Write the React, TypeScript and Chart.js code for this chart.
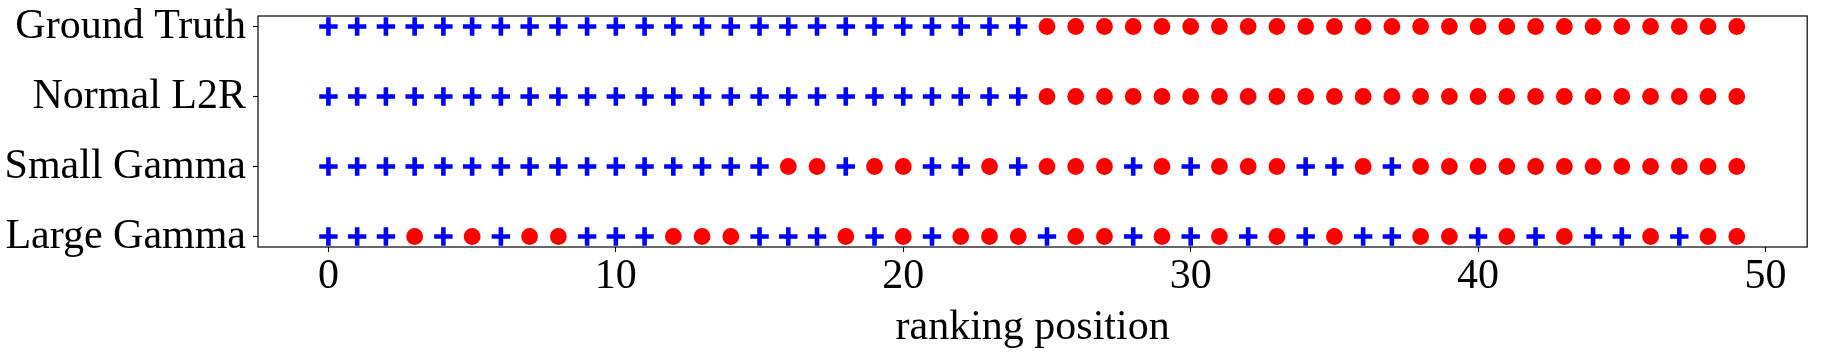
import React, { useEffect, useRef } from "react";
import { Chart, registerables } from "chart.js";

Chart.register(...registerables);

// Row labels (top to bottom)
const rowLabels = ["Ground Truth", "Normal L2R", "Small Gamma", "Large Gamma"];

// Relevance at each ranking position 0..49 (1 = relevant "+", 0 = irrelevant "●")
const groundTruth = [
  1, 1, 1, 1, 1, 1, 1, 1, 1, 1, 1, 1, 1, 1, 1, 1, 1, 1, 1, 1, 1, 1, 1, 1, 1,
  0, 0, 0, 0, 0, 0, 0, 0, 0, 0, 0, 0, 0, 0, 0, 0, 0, 0, 0, 0, 0, 0, 0, 0, 0,
];
const normalL2R = [
  1, 1, 1, 1, 1, 1, 1, 1, 1, 1, 1, 1, 1, 1, 1, 1, 1, 1, 1, 1, 1, 1, 1, 1, 1,
  0, 0, 0, 0, 0, 0, 0, 0, 0, 0, 0, 0, 0, 0, 0, 0, 0, 0, 0, 0, 0, 0, 0, 0, 0,
];
const smallGamma = [
  1, 1, 1, 1, 1, 1, 1, 1, 1, 1, 1, 1, 1, 1, 1, 1, 0, 0, 1, 0, 0, 1, 1, 0, 1,
  0, 0, 0, 1, 0, 1, 0, 0, 0, 1, 1, 0, 1, 0, 0, 0, 0, 0, 0, 0, 0, 0, 0, 0, 0,
];
const largeGamma = [
  1, 1, 1, 0, 1, 0, 1, 0, 0, 1, 1, 1, 0, 0, 0, 1, 1, 1, 0, 1, 0, 1, 0, 0, 0,
  1, 0, 0, 1, 0, 1, 0, 1, 0, 1, 0, 1, 1, 0, 0, 1, 0, 1, 0, 1, 1, 0, 1, 0, 0,
];
const rows = [groundTruth, normalL2R, smallGamma, largeGamma];

const xTicks = [0, 10, 20, 30, 40, 50];
const xMin = -2.45;
const xMax = 51.45;

const FONT = "'Liberation Serif', 'Times New Roman', serif";

const framePlugin = {
  id: "frame",
  afterDraw(chart: any) {
    const { ctx, chartArea } = chart;
    const { left, top, right, bottom } = chartArea;
    ctx.save();
    ctx.strokeStyle = "#000";
    ctx.lineWidth = 1.2;
    ctx.strokeRect(left, top, right - left, bottom - top);
    ctx.restore();
  },
};

export default function App() {
  const ref = useRef<HTMLCanvasElement | null>(null);

  useEffect(() => {
    if (!ref.current) return;
    const plus: { x: number; y: number }[] = [];
    const dots: { x: number; y: number }[] = [];
    rows.forEach((row, r) => {
      row.forEach((rel, i) => {
        if (rel === 1) plus.push({ x: i, y: r });
        else dots.push({ x: i, y: r });
      });
    });

    const chart = new Chart(ref.current, {
      type: "scatter",
      data: {
        datasets: [
          {
            data: plus,
            pointStyle: "cross",
            pointRadius: 9.2,
            pointBorderWidth: 4.6,
            borderColor: "#0000ff",
            backgroundColor: "#0000ff",
            pointHoverRadius: 9.2,
          },
          {
            data: dots,
            pointStyle: "circle",
            pointRadius: 8.4,
            pointBorderWidth: 0,
            borderColor: "#ff0000",
            backgroundColor: "#ff0000",
            pointHoverRadius: 8.4,
          },
        ],
      },
      options: {
        animation: false,
        responsive: false,
        maintainAspectRatio: false,
        events: [],
        layout: { padding: { left: 0, right: 13, top: 16, bottom: 0 } },
        plugins: {
          legend: { display: false },
          tooltip: { enabled: false },
          title: { display: false },
        },
        scales: {
          x: {
            type: "linear",
            min: xMin,
            max: xMax,
            afterBuildTicks: (s: any) => {
              s.ticks = xTicks.map((v) => ({ value: v }));
            },
            afterFit: (s: any) => {
              s.height = 109;
              s.paddingLeft = 0;
              s.paddingRight = 0;
            },
            border: { display: false },
            grid: {
              display: true,
              drawOnChartArea: false,
              drawTicks: true,
              tickLength: 5,
              tickWidth: 1.1,
              tickColor: "#000",
            },
            ticks: {
              autoSkip: false,
              maxRotation: 0,
              padding: 0,
              color: "#000",
              font: { family: FONT, size: 42 },
              callback: (v: any) => String(v),
            },
            title: {
              display: true,
              text: "ranking position",
              color: "#000",
              font: { family: FONT, size: 42 },
              padding: { top: 0, bottom: 3 },
            },
          },
          y: {
            type: "linear",
            reverse: true,
            min: -0.15,
            max: 3.15,
            afterBuildTicks: (s: any) => {
              s.ticks = rowLabels.map((_, i) => ({ value: i }));
            },
            afterFit: (s: any) => {
              s.width = 258;
              s.paddingTop = 0;
              s.paddingBottom = 0;
            },
            border: { display: false },
            grid: {
              display: true,
              drawOnChartArea: false,
              drawTicks: true,
              tickLength: 5,
              tickWidth: 1.1,
              tickColor: "#000",
            },
            ticks: {
              autoSkip: false,
              padding: 7,
              color: "#000",
              font: { family: FONT, size: 42 },
              callback: (v: any) => rowLabels[Number(v)] ?? "",
            },
          },
        },
      },
      plugins: [framePlugin],
    });
    return () => chart.destroy();
  }, []);

  return (
    <div
      style={{
        position: "fixed",
        left: 0,
        top: 0,
        width: 1821,
        height: 356,
        background: "#fff",
      }}
    >
      <canvas ref={ref} width={1821} height={356} style={{ display: "block" }} />
    </div>
  );
}
